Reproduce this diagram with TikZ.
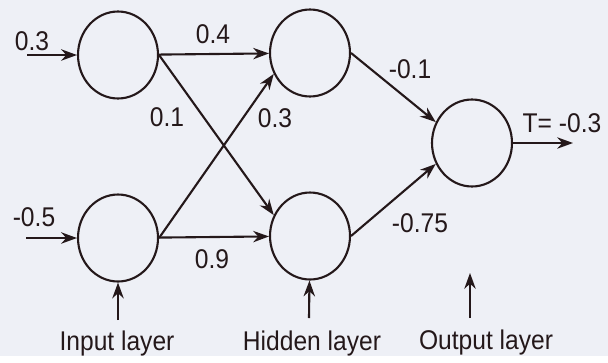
\documentclass[tikz,border=0pt]{standalone}
\usepackage{fontspec}
\setmainfont{Liberation Sans}
\usetikzlibrary{arrows.meta,shapes.geometric}
\definecolor{ink}{RGB}{36,24,26}
\definecolor{paper}{RGB}{238,240,246}
\begin{document}
\begin{tikzpicture}[x=0.02cm,y=-0.02cm,draw=ink,text=ink,line width=1.2pt,
	neuron/.style={ellipse,draw,minimum width=1.6cm,minimum height=1.74cm,inner sep=0pt},
	wt/.style={font=\fontsize{14}{16}\selectfont,yscale=1.1},
	conn/.style={-{Stealth[length=9pt,width=6.5pt]}}]
	\fill[paper] (0,0) rectangle (608,356);
	\node[neuron] (in1) at (118,55) {};
	\node[neuron] (in2) at (118,238) {};
	\node[neuron] (hid1) at (310,53) {};
	\node[neuron] (hid2) at (310,236) {};
	\node[neuron] (out) at (472,143) {};
	\coordinate (x1) at (27,55);
	\coordinate (x2) at (26,238);
	\coordinate (t) at (573,143);
	\coordinate (inb) at (118,320);
	\coordinate (hidb) at (309,318);
	\coordinate (outb) at (470,318);
	\coordinate (outt) at (470,273);
	\draw[conn] (x1) -- (in1);
	\draw[conn] (x2) -- (in2);
	\draw[conn] (in1) -- (hid1);
	\draw[conn] (in1.east) -- (hid2.150);
	\draw[conn] (in2.east) -- (hid1.210);
	\draw[conn] (in2) -- (hid2);
	\draw[conn] (hid1.east) -- (out.150);
	\draw[conn] (hid2.east) -- (out.210);
	\draw[conn] (out) -- (t);
	\draw[conn] (inb) -- (in2);
	\draw[conn] (hidb) -- (hid2);
	\draw[conn] (outb) -- (outt);
	\node[wt] (w1) at (32,41) {0.3};
	\node[wt] (w2) at (34,217) {-0.5};
	\node[wt] (w3) at (213,34) {0.4};
	\node[wt] (w4) at (167,117) {0.1};
	\node[wt] (w5) at (275,118) {0.3};
	\node[wt] (w6) at (212,259) {0.9};
	\node[wt] (w7) at (410,69) {-0.1};
	\node[wt] (w8) at (420,223) {-0.75};
	\node[wt] (tl) at (562,123) {T= -0.3};
	\node[wt] (lin) at (117,343) {Input layer};
	\node[wt] (lhid) at (312,343) {Hidden layer};
	\node[wt] (lout) at (486,342) {Output layer};
\end{tikzpicture}
\end{document}
